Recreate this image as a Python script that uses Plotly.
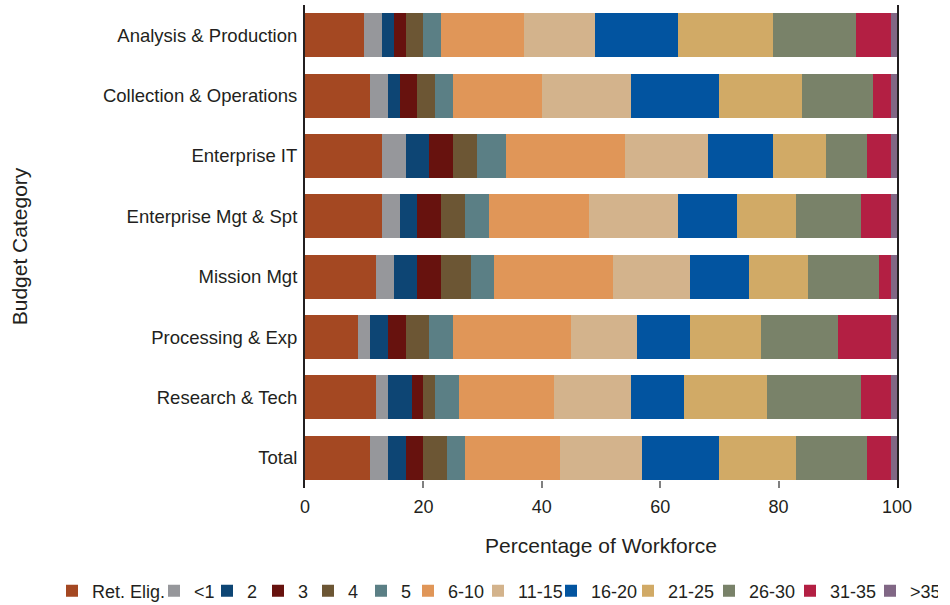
import plotly.graph_objects as go

categories = ["Analysis & Production", "Collection & Operations", "Enterprise IT",
              "Enterprise Mgt & Spt", "Mission Mgt", "Processing & Exp",
              "Research & Tech", "Total"]

series_names = ["Ret. Elig.", "<1", "2", "3", "4", "5", "6-10", "11-15",
                "16-20", "21-25", "26-30", "31-35", ">35"]

ret_elig = [10, 11, 13, 13, 12, 9, 12, 11]
lt1      = [3, 3, 4, 3, 3, 2, 2, 3]
y2       = [2, 2, 4, 3, 4, 3, 4, 3]
y3       = [2, 3, 4, 4, 4, 3, 2, 3]
y4       = [3, 3, 4, 4, 5, 4, 2, 4]
y5       = [3, 3, 5, 4, 4, 4, 4, 3]
y6_10    = [14, 15, 20, 17, 20, 20, 16, 16]
y11_15   = [12, 15, 14, 15, 13, 11, 13, 14]
y16_20   = [14, 15, 11, 10, 10, 9, 9, 13]
y21_25   = [16, 14, 9, 10, 10, 12, 14, 13]
y26_30   = [14, 12, 7, 11, 12, 13, 16, 12]
y31_35   = [6, 3, 4, 5, 2, 9, 5, 4]
gt35     = [1, 1, 1, 1, 1, 1, 1, 1]

series_values = [ret_elig, lt1, y2, y3, y4, y5, y6_10, y11_15, y16_20,
                 y21_25, y26_30, y31_35, gt35]

colors = ["#A44822", "#96979B", "#0D4574", "#67120E", "#6C5634", "#5B7F85",
          "#E09658", "#D3B38C", "#0254A0", "#D1AA66", "#798269", "#B31F43",
          "#816785"]

legend_widths = [57, 8, 6, 5, 8, 2, 25, 28, 32, 36, 36, 35, 23]

x_ticks = [0, 20, 40, 60, 80, 100]

TEXT = "#231f20"
SANS = "Liberation Sans, Arial, sans-serif"

fig = go.Figure()
for name, vals, col, lw in zip(series_names, series_values, colors, legend_widths):
    fig.add_trace(go.Bar(
        y=categories, x=vals, name=name, orientation="h",
        marker=dict(color=col, line=dict(width=0)),
        legendwidth=lw,
    ))

fig.update_layout(
    barmode="stack",
    bargap=0.27,
    width=950, height=605,
    paper_bgcolor="white", plot_bgcolor="white",
    margin=dict(l=305, r=53, t=5, b=117, autoexpand=False),
    font=dict(family=SANS, color=TEXT, size=18),
    legend=dict(
        orientation="h", x=(52 - 305) / 592, xanchor="left",
        y=(488 - 591) / 483, yanchor="middle",
        font=dict(size=18, family=SANS, color=TEXT),
        traceorder="normal",
    ),
    xaxis=dict(
        range=[0, 100], tickvals=x_ticks, ticks="inside", ticklen=7,
        tickcolor="#808080", tickwidth=1.5, showline=False, showgrid=False,
        zeroline=False, tickfont=dict(size=18, color=TEXT),
        ticklabelstandoff=6,
        title=dict(text="Percentage of Workforce", font=dict(size=21, color=TEXT),
                   standoff=22),
    ),
    yaxis=dict(
        categoryorder="array", categoryarray=categories,
        range=[7.5, -0.5], showline=True, linecolor=TEXT, linewidth=2,
        mirror=True, ticks="", showgrid=False, zeroline=False,
        ticklabelstandoff=2,
        tickfont=dict(size=18.5, family=SANS, color=TEXT),
        title=dict(text="Budget Category", font=dict(size=21, color=TEXT),
                   standoff=70),
    ),
)

fig.write_html("out.html", config={"displayModeBar": False},
               post_script="document.body.style.margin='0';")
